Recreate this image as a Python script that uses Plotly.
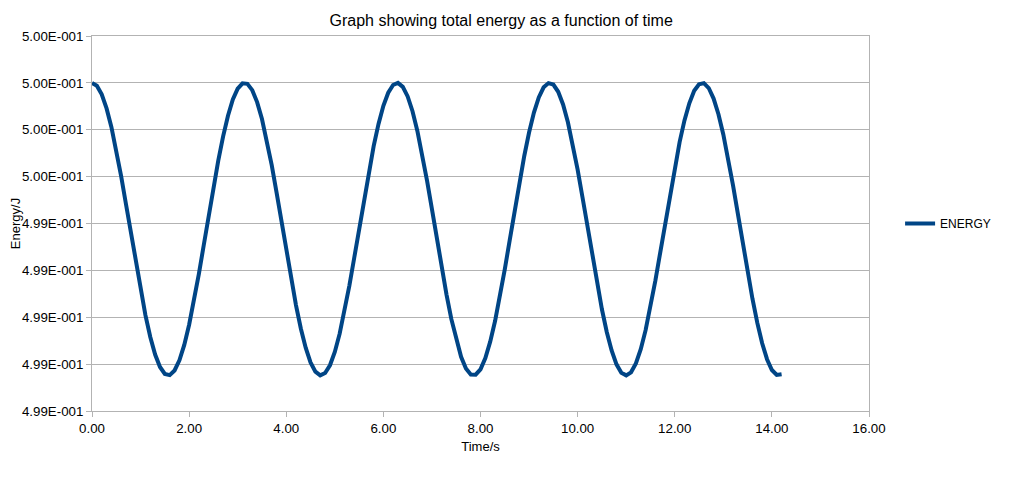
import plotly.graph_objects as go

# Time samples (s)
time_s = [round(i * 0.1, 1) for i in range(143)]  # 0.0 .. 14.2

# Total energy (J)
energy = [
    0.5000000, 0.4999988, 0.4999951, 0.4999891, 0.4999811, 0.4999713, 0.4999602, 0.4999482,
    0.4999358, 0.4999234, 0.4999116, 0.4999009, 0.4998916, 0.4998841, 0.4998788, 0.4998758,
    0.4998753, 0.4998773, 0.4998816, 0.4998882, 0.4998968, 0.4999070, 0.4999184, 0.4999306,
    0.4999431, 0.4999553, 0.4999668, 0.4999772, 0.4999860, 0.4999929, 0.4999975, 0.4999998,
    0.4999996, 0.4999969, 0.4999918, 0.4999846, 0.4999755, 0.4999650, 0.4999533, 0.4999410,
    0.4999285, 0.4999164, 0.4999052, 0.4998952, 0.4998870, 0.4998807, 0.4998768, 0.4998752,
    0.4998762, 0.4998795, 0.4998852, 0.4998930, 0.4999026, 0.4999135, 0.4999254, 0.4999378,
    0.4999502, 0.4999621, 0.4999730, 0.4999825, 0.4999902, 0.4999958, 0.4999991,
    0.5000000, 0.4999983, 0.4999942, 0.4999879, 0.4999795, 0.4999695, 0.4999582, 0.4999461,
    0.4999337, 0.4999214, 0.4999097, 0.4998992, 0.4998902, 0.4998831, 0.4998781, 0.4998756,
    0.4998755, 0.4998778, 0.4998826, 0.4998896, 0.4998984, 0.4999089, 0.4999204, 0.4999327,
    0.4999451, 0.4999573, 0.4999687, 0.4999788, 0.4999873, 0.4999938, 0.4999981, 0.4999999,
    0.4999993, 0.4999962, 0.4999908, 0.4999832, 0.4999738, 0.4999630, 0.4999512, 0.4999388,
    0.4999264, 0.4999144, 0.4999034, 0.4998937, 0.4998858, 0.4998799, 0.4998763, 0.4998752,
    0.4998765, 0.4998803, 0.4998864, 0.4998945, 0.4999043, 0.4999155, 0.4999275, 0.4999399,
    0.4999523, 0.4999640, 0.4999747, 0.4999840, 0.4999913, 0.4999966, 0.4999994,
    0.4999999, 0.4999978, 0.4999933, 0.4999866, 0.4999780, 0.4999677, 0.4999563, 0.4999441,
    0.4999316, 0.4999194, 0.4999079, 0.4998976, 0.4998889, 0.4998821, 0.4998775, 0.4998754,
    0.4998757,
]

# Axis ticks
x_tickvals = [0, 2, 4, 6, 8, 10, 12, 14, 16]
x_ticktext = ["0.00", "2.00", "4.00", "6.00", "8.00", "10.00", "12.00", "14.00", "16.00"]
y_tickvals = [0.49986, 0.49988, 0.49990, 0.49992, 0.49994, 0.49996, 0.49998, 0.50000, 0.50002]
y_ticktext = ["4.99E-001", "4.99E-001", "4.99E-001", "4.99E-001", "4.99E-001",
              "5.00E-001", "5.00E-001", "5.00E-001", "5.00E-001"]

FONT = "Liberation Sans, Arial, sans-serif"
GRID = "#b3b3b3"

fig = go.Figure()
fig.add_trace(go.Scatter(
    x=time_s, y=energy, mode="lines", name="ENERGY",
    line=dict(color="#004586", width=4),
))

fig.update_layout(
    width=1021, height=486,
    margin=dict(l=84, r=160, t=28, b=83),
    paper_bgcolor="white", plot_bgcolor="white",
    font=dict(family=FONT, size=13, color="black"),
    title=dict(text="Graph showing total energy as a function of time",
               x=0.483, xanchor="center", y=0.975, yanchor="middle",
               font=dict(family=FONT, size=16, color="black")),
    showlegend=True,
    legend=dict(x=1.040, xanchor="left", y=0.5, yanchor="middle",
                font=dict(family=FONT, size=12, color="black"),
                itemwidth=30, bgcolor="rgba(0,0,0,0)"),
    xaxis=dict(
        range=[0, 16], tickvals=x_tickvals, ticktext=x_ticktext,
        showgrid=False, zeroline=False, automargin=False,
        showline=True, linecolor=GRID, linewidth=1, mirror=True,
        ticks="outside", ticklen=5, tickcolor=GRID,
        tickfont=dict(family=FONT, size=13.3, color="black"),
        title=dict(text="Time/s", font=dict(family=FONT, size=13, color="black"), standoff=6),
    ),
    yaxis=dict(
        range=[0.49986, 0.50002], tickvals=y_tickvals, ticktext=y_ticktext,
        showgrid=True, gridcolor=GRID, gridwidth=1, zeroline=False, automargin=False,
        showline=True, linecolor=GRID, linewidth=1, mirror=True,
        ticks="outside", ticklen=5, tickcolor=GRID,
        tickfont=dict(family=FONT, size=13.3, color="black"),
        title=dict(text="Energy/J", font=dict(family=FONT, size=13, color="black"), standoff=0),
    ),
)

fig.write_html("out.html")
